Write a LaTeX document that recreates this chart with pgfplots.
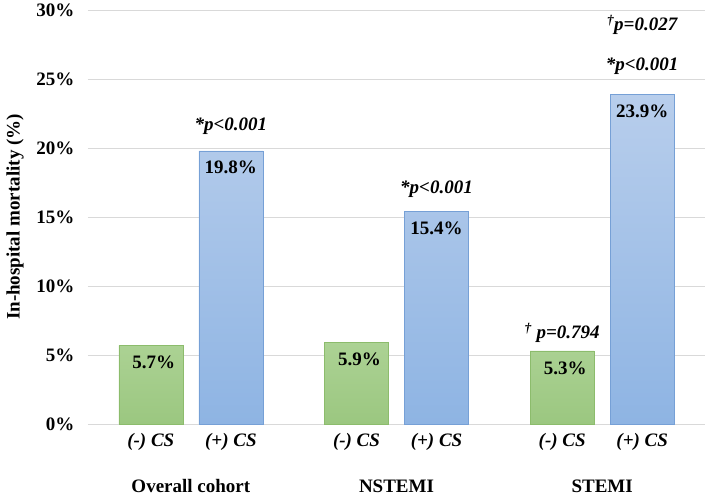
\documentclass[border=0pt]{standalone}
\usepackage{pgfplots}
\pgfplotsset{compat=1.18}
\usepackage{fontspec}
\setmainfont{Liberation Serif}
\definecolor{gtop}{RGB}{172,210,148}
\definecolor{gbot}{RGB}{155,199,128}
\definecolor{gedge}{RGB}{140,188,108}
\definecolor{btop}{RGB}{184,206,236}
\definecolor{bbot}{RGB}{142,180,227}
\definecolor{bedge}{RGB}{118,160,214}
\definecolor{gridc}{RGB}{217,217,217}
\newcommand\ff{\fontsize{19pt}{23pt}\selectfont\bfseries}
\begin{document}
\begin{tikzpicture}
\begin{axis}[
  scale only axis,
  width=617pt, height=414pt,
  xmin=-0.5, xmax=2.5,
  ymin=0, ymax=30,
  ytick={0,5,10,15,20,25,30},
  yticklabels={0\%,5\%,10\%,15\%,20\%,25\%,30\%},
  yticklabel style={font=\ff, xshift=-10pt},
  xtick={-0.1945,0.1945,0.8055,1.1945,1.8055,2.1945},
  xticklabels={\textit{(-) CS},\textit{(+) CS},\textit{(-) CS},\textit{(+) CS},\textit{(-) CS},\textit{(+) CS}},
  xticklabel style={font=\ff, yshift=-6pt},
  extra x ticks={0,1,2},
  extra x tick labels={Overall cohort,NSTEMI,STEMI},
  extra x tick style={grid=none, tick label style={yshift=-46pt}},
  ymajorgrids,
  grid style={gridc, line width=1pt},
  axis line style={draw=none},
  major tick style={draw=none},
  ylabel={In-hospital mortality (\%)},
  ylabel style={font=\ff, at={(axis description cs:-0.1183,0.5)}, anchor=center},
  clip=false,
]
\addplot[ybar, bar width=64pt, bar shift=0pt, draw=gedge, top color=gtop, bottom color=gbot,
  nodes near coords={\pgfmathprintnumber[fixed,fixed zerofill,precision=1,assume math mode=true]{\pgfplotspointmeta}\%},
  nodes near coords style={anchor=north, font=\ff, yshift=-7pt, xshift=3pt, black}]
  coordinates {(-0.1945,5.7) (0.8055,5.9) (1.8055,5.3)};
\addplot[ybar, bar width=64pt, bar shift=0pt, draw=bedge, top color=btop, bottom color=bbot,
  nodes near coords={\pgfmathprintnumber[fixed,fixed zerofill,precision=1,assume math mode=true]{\pgfplotspointmeta}\%},
  nodes near coords style={anchor=north, font=\ff, yshift=-7pt, black}]
  coordinates {(0.1945,19.8) (1.1945,15.4) (2.1945,23.9)};
\node[font=\ff\itshape] at (axis cs:0.1945,21.6) {*p<0.001};
\node[font=\ff\itshape] at (axis cs:1.1945,17.0) {*p<0.001};
\node[font=\ff\itshape] at (axis cs:2.1945,25.9) {*p<0.001};
\node[font=\ff\itshape] at (axis cs:2.1945,28.9) {\textsuperscript{†}p=0.027};
\node[font=\ff\itshape] at (axis cs:1.8055,6.6) {\textsuperscript{†} p=0.794};
\end{axis}
\pgfresetboundingbox
\path[use as bounding box] (-88pt,-72pt) rectangle (621pt,424pt);
\end{tikzpicture}
\end{document}
